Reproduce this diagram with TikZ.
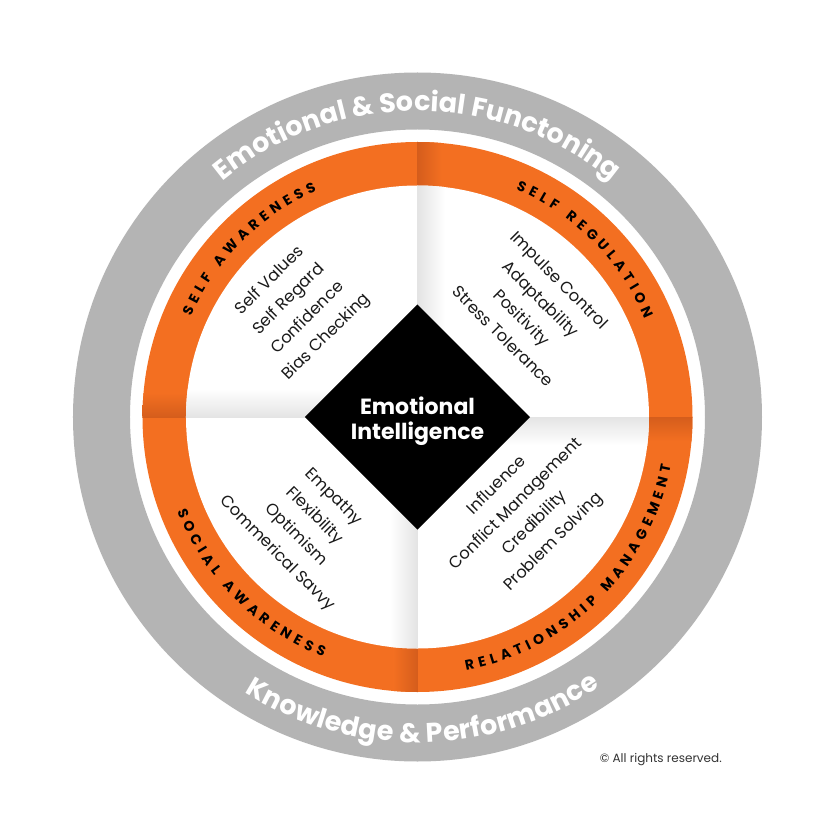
\documentclass[tikz,border=0pt]{standalone}
\usepackage{fontspec}
\setmainfont{Poppins}
\definecolor{ringgrey}{HTML}{B4B4B4}
\definecolor{eiorange}{HTML}{F36F21}
\definecolor{eiorangedark}{HTML}{D55D1C}
\definecolor{shadegrey}{HTML}{E4E4E4}
\definecolor{itemtext}{HTML}{1A1A1A}
\definecolor{copytext}{HTML}{333333}
\newdimen\ArcTot
\newdimen\ArcAcc
\newcount\ArcIdx
% measure (outside the picture): #1 id, #2 font, #3 tracking, #4 letters
\newcommand\ArcMeasure[4]{%
  \global\ArcTot=0pt
  \global\ArcIdx=0
  \foreach \ch in {#4}{%
    \setbox0\hbox{#2\ch}%
    \global\advance\ArcIdx by 1
    \expandafter\xdef\csname AW@#1@\the\ArcIdx\endcsname{\the\wd0}%
    \global\advance\ArcTot by \wd0
    \global\advance\ArcTot by #3pt
  }%
  \global\advance\ArcTot by -#3pt
  \expandafter\xdef\csname AT@#1\endcsname{\the\ArcTot}%
}
% place: #1 id, #2 radius, #3 mid angle, #4 font, #5 tracking, #6 letters, #7 colour, #8 1=top -1=bottom
\newcommand\ArcPlace[8]{%
  \global\ArcAcc=0pt
  \global\ArcIdx=0
  \foreach \ch in {#6}{%
    \global\advance\ArcIdx by 1
    \edef\ArcW{\csname AW@#1@\the\ArcIdx\endcsname}%
    \edef\ArcT{\csname AT@#1\endcsname}%
    \pgfmathsetmacro\th{#3 + #8*((\ArcT)/2 - (\the\ArcAcc) - (\ArcW)/2)/#2*180/pi}%
    \pgfmathsetmacro\rot{\th - 90*#8}%
    \node[inner sep=0pt, anchor=base, rotate=\rot, text=#7, font=#4] at (\th:#2pt) {\ch};
    \global\advance\ArcAcc by \ArcW\relax
    \global\advance\ArcAcc by #5pt
  }%
}
\tikzset{
  itemblock/.style={align=center, text=itemtext, inner sep=0pt,
    font=\fontsize{16.4}{26.6}\selectfont},
  coretext/.style={text=white, inner sep=0pt, anchor=base,
    font=\bfseries\fontsize{22}{24}\selectfont},
}
\newcommand\RingFont{\bfseries\fontsize{14}{14}\selectfont}
\newcommand\OuterFont{\bfseries\fontsize{27}{27}\selectfont}
\begin{document}
\ArcMeasure{a}{\RingFont}{4.7}{S,E,L,F,~,A,W,A,R,E,N,E,S,S}%
\ArcMeasure{b}{\RingFont}{4.7}{S,E,L,F,~,R,E,G,U,L,A,T,I,O,N}%
\ArcMeasure{c}{\RingFont}{4.7}{S,O,C,I,A,L,~,A,W,A,R,E,N,E,S,S}%
\ArcMeasure{d}{\RingFont}{4.7}{R,E,L,A,T,I,O,N,S,H,I,P,~,M,A,N,A,G,E,M,E,N,T}%
\ArcMeasure{e}{\OuterFont}{0}{E,m,o,t,i,o,n,a,l,~,\&,~,S,o,c,i,a,l,~,F,u,n,c,t,o,n,i,n,g}%
\ArcMeasure{f}{\OuterFont}{0.3}{K,n,o,w,l,e,d,g,e,~,\&,~,P,e,r,f,o,r,m,a,n,c,e}%
\begin{tikzpicture}[x=1pt,y=1pt]
\useasboundingbox[fill=white] (-417.5,-416) rectangle (415.5,417);
% outer grey ring
\fill[ringgrey,even odd rule] (0,0) circle[radius=344.5] (0,0) circle[radius=287.5];
% orange ring
\fill[eiorange] (0,0) circle[radius=275];
\begin{scope}
  \clip (0,0) circle[radius=275];
  \shade[left color=eiorangedark,right color=eiorange] (0,180) rectangle (24,280);
  \shade[top color=eiorangedark,bottom color=eiorange] (180,-24) rectangle (280,0);
  \shade[left color=eiorange,right color=eiorangedark] (-24,-280) rectangle (0,-180);
  \shade[top color=eiorange,bottom color=eiorangedark] (-280,0) rectangle (-180,24);
\end{scope}
% white disc and its shading
\fill[white] (0,0) circle[radius=231.5];
\begin{scope}
  \clip (0,0) circle[radius=231.5];
  \shade[left color=shadegrey,right color=white] (0,0) rectangle (28,232);
  \shade[top color=shadegrey,bottom color=white] (0,-28) rectangle (232,0);
  \shade[left color=white,right color=shadegrey] (-28,-232) rectangle (0,0);
  \shade[top color=white,bottom color=shadegrey] (-232,0) rectangle (0,28);
\end{scope}
% core diamond
\node[fill=black, minimum size=159.1pt, inner sep=0pt, rotate=45] (core) at (0,0) {};
\node[coretext] (core1) at (0,3) {Emotional};
\node[coretext] (core2) at (0,-22) {Intelligence};
% item blocks
\node[itemblock, rotate=45] (selfaw) at (-119,108) {Self Values\\Self Regard\\Confidence\\Bias Checking};
\node[itemblock, rotate=-45] (selfreg) at (114,109) {Impulse Control\\Adaptability\\Positivity\\Stress Tolerance};
\node[itemblock, rotate=-45] (socaw) at (-112.5,-108.5) {Empathy\\Flexibility\\Optimism\\Commerical Savvy};
\node[itemblock, rotate=45] (relman) at (108,-97) {Influence\\Conflict Management\\Credibility\\Problem Solving};
% ring labels
\ArcPlace{a}{248}{135}{\RingFont}{4.7}{S,E,L,F,~,A,W,A,R,E,N,E,S,S}{black}{1}
\ArcPlace{b}{248}{45}{\RingFont}{4.7}{S,E,L,F,~,R,E,G,U,L,A,T,I,O,N}{black}{1}
\ArcPlace{c}{258}{225}{\RingFont}{4.7}{S,O,C,I,A,L,~,A,W,A,R,E,N,E,S,S}{black}{-1}
\ArcPlace{d}{258}{315}{\RingFont}{4.7}{R,E,L,A,T,I,O,N,S,H,I,P,~,M,A,N,A,G,E,M,E,N,T}{black}{-1}
% outer ring labels
\ArcPlace{e}{306}{90}{\OuterFont}{0}{E,m,o,t,i,o,n,a,l,~,\&,~,S,o,c,i,a,l,~,F,u,n,c,t,o,n,i,n,g}{white}{1}
\ArcPlace{f}{325.5}{271}{\OuterFont}{0.3}{K,n,o,w,l,e,d,g,e,~,\&,~,P,e,r,f,o,r,m,a,n,c,e}{white}{-1}
% copyright
\node[anchor=base east, inner sep=0pt, text=copytext, font=\fontsize{12}{13}\selectfont] (copy) at (304.5,-345) {© All rights reserved.};
\end{tikzpicture}
\end{document}
